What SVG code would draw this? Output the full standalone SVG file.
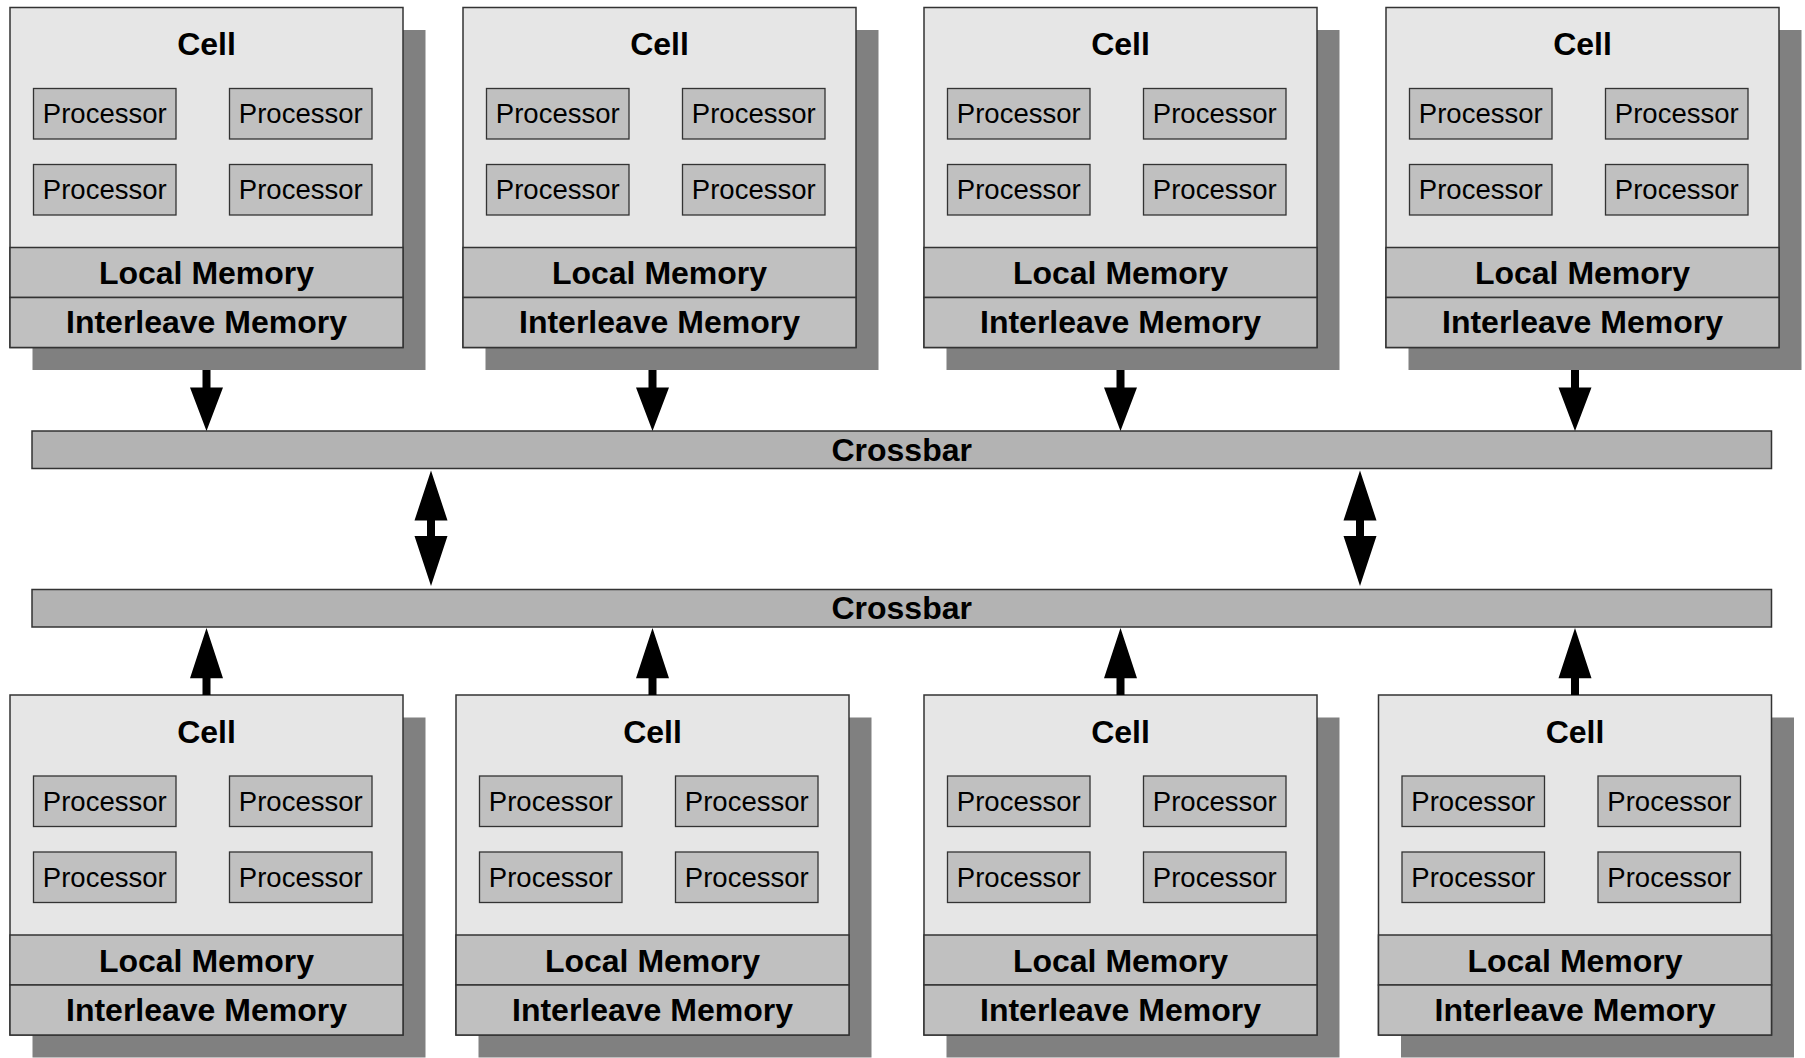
<svg xmlns="http://www.w3.org/2000/svg" xmlns:xlink="http://www.w3.org/1999/xlink" width="1805" height="1058" viewBox="0 0 1805 1058">
<style>
.shadow{fill:#808080;stroke:none}
.cell{fill:#e6e6e6;stroke:#333333;stroke-width:1.5}
.band{fill:#c0c0c0;stroke:#333333;stroke-width:1.5}
.proc{fill:#c0c0c0;stroke:#333333;stroke-width:1.3}
.xbar{fill:#b3b3b3;stroke:#333333;stroke-width:1.5}
.t{font-family:"Liberation Sans",Arial,sans-serif;fill:#000;text-anchor:middle}
.b{font-weight:bold;font-size:32px}
.p{font-size:27.5px}
.arrow{fill:#000;stroke:none}
</style>
<defs>
<g id="cellShape">
<rect class="shadow" x="22.5" y="22.5" width="393" height="340"/>
<rect class="cell" x="0" y="0" width="393" height="340"/>
<rect class="band" x="0" y="240" width="393" height="50"/>
<rect class="band" x="0" y="290" width="393" height="50"/>
<rect class="proc" x="23.5" y="81" width="142.5" height="50.5"/>
<rect class="proc" x="219.5" y="81" width="142.5" height="50.5"/>
<rect class="proc" x="23.5" y="157" width="142.5" height="50.5"/>
<rect class="proc" x="219.5" y="157" width="142.5" height="50.5"/>
<text class="t b" x="196.5" y="47.5">Cell</text>
<text class="t p" x="94.75" y="115.8">Processor</text>
<text class="t p" x="290.75" y="115.8">Processor</text>
<text class="t p" x="94.75" y="191.8">Processor</text>
<text class="t p" x="290.75" y="191.8">Processor</text>
<text class="t b" x="196.5" y="276.5">Local Memory</text>
<text class="t b" x="196.5" y="325.5">Interleave Memory</text>
</g>
</defs>
<g id="cell-top-1"><use xlink:href="#cellShape" href="#cellShape" transform="translate(10,7.5)"/></g>
<g id="cell-top-2"><use xlink:href="#cellShape" href="#cellShape" transform="translate(463,7.5)"/></g>
<g id="cell-top-3"><use xlink:href="#cellShape" href="#cellShape" transform="translate(924,7.5)"/></g>
<g id="cell-top-4"><use xlink:href="#cellShape" href="#cellShape" transform="translate(1386,7.5)"/></g>
<g id="cell-bottom-1"><use xlink:href="#cellShape" href="#cellShape" transform="translate(10,695)"/></g>
<g id="cell-bottom-2"><use xlink:href="#cellShape" href="#cellShape" transform="translate(456,695)"/></g>
<g id="cell-bottom-3"><use xlink:href="#cellShape" href="#cellShape" transform="translate(924,695)"/></g>
<g id="cell-bottom-4"><use xlink:href="#cellShape" href="#cellShape" transform="translate(1378.5,695)"/></g>
<g id="crossbar-top">
<rect class="xbar" x="32" y="431" width="1739.5" height="37.5"/>
<text class="t b" x="901.7" y="460.7">Crossbar</text>
</g>
<g id="crossbar-bottom">
<rect class="xbar" x="32" y="589.5" width="1739.5" height="37.5"/>
<text class="t b" x="901.7" y="619.3">Crossbar</text>
</g>
<g id="connectors">
<polygon class="arrow" points="202.5,370 210.5,370 210.5,387.5 223,387.5 206.5,431 190,387.5 202.5,387.5"/>
<polygon class="arrow" points="648.5,370 656.5,370 656.5,387.5 669,387.5 652.5,431 636,387.5 648.5,387.5"/>
<polygon class="arrow" points="1116.5,370 1124.5,370 1124.5,387.5 1137,387.5 1120.5,431 1104,387.5 1116.5,387.5"/>
<polygon class="arrow" points="1571,370 1579,370 1579,387.5 1591.5,387.5 1575,431 1558.5,387.5 1571,387.5"/>
<polygon class="arrow" points="202.5,695 210.5,695 210.5,678.3 223,678.3 206.5,628 190,678.3 202.5,678.3"/>
<polygon class="arrow" points="648.5,695 656.5,695 656.5,678.3 669,678.3 652.5,628 636,678.3 648.5,678.3"/>
<polygon class="arrow" points="1116.5,695 1124.5,695 1124.5,678.3 1137,678.3 1120.5,628 1104,678.3 1116.5,678.3"/>
<polygon class="arrow" points="1571,695 1579,695 1579,678.3 1591.5,678.3 1575,628 1558.5,678.3 1571,678.3"/>
<polygon class="arrow" points="431,470.5 447.5,520.5 435,520.5 435,536 447.5,536 431,586 414.5,536 427,536 427,520.5 414.5,520.5"/>
<polygon class="arrow" points="1360,470.5 1376.5,520.5 1364,520.5 1364,536 1376.5,536 1360,586 1343.5,536 1356,536 1356,520.5 1343.5,520.5"/>
</g>
</svg>
